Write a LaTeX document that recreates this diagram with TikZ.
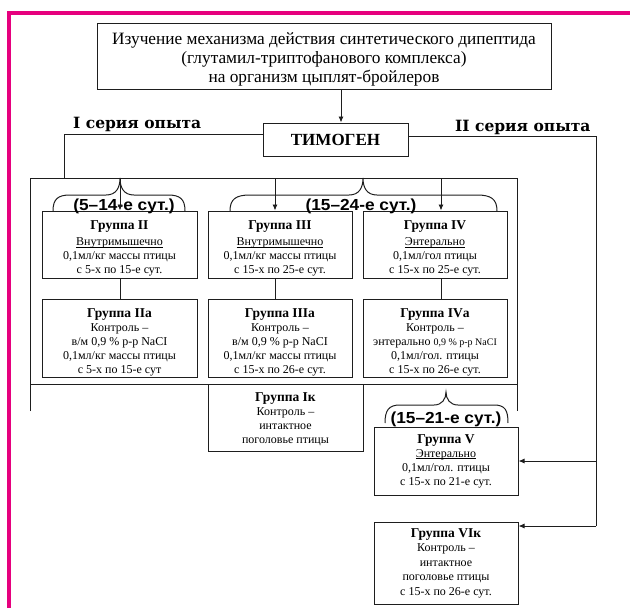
\documentclass[tikz,border=0pt]{standalone}
\usepackage{fontspec}
\usepackage{graphicx}
\setmainfont{Liberation Serif}
\newfontfamily\bracefont{Liberation Sans}
\newfontfamily\seriesfont{DejaVu Serif}
\usetikzlibrary{arrows.meta}
\definecolor{mag}{RGB}{230,0,126}
\definecolor{ink}{RGB}{30,30,30}
\newcommand\grtitle[1]{{\fontsize{13.5}{14}\selectfont\bfseries #1}}
\newcommand\upstrut[1]{\rule{0pt}{#1}}
\newcommand\ulin[1]{\setbox0=\hbox{#1}\rlap{\rule[-2pt]{\wd0}{0.7pt}}\box0}
\newcommand\bracetxt[1]{\scalebox{1.08}[1]{#1}}
\begin{document}
\begin{tikzpicture}[x=1pt,y=-1pt,
  box/.style={draw=ink, line width=1pt, inner sep=0pt, align=center, font=\fontsize{12}{14}\selectfont},
  ln/.style={draw=ink, line width=0.9pt},
  arr/.style={draw=ink, line width=0.9pt, -{Latex[length=6pt,width=5pt]}},
  brace/.style={draw=ink, line width=1pt},
  btext/.style={font=\bracefont\bfseries\fontsize{16}{16}\selectfont, inner sep=0pt, anchor=base},
  sertext/.style={font=\seriesfont\bfseries\fontsize{15.5}{16}\selectfont, inner sep=0pt, anchor=base west},
]
\useasboundingbox (0,0) rectangle (630,608);
% magenta frame
\draw[mag, line width=3.5pt] (9,700) -- (9,13) -- (700,13);

% top box
\node[box, minimum width=454pt, minimum height=66pt, font=\fontsize{17.3}{19}\selectfont] (top) at (324,56)
  {\upstrut{19pt}Изучение механизма действия синтетического дипептида\\(глутамил-триптофанового комплекса)\\на организм цыплят-бройлеров};

% TIMOGEN
\node[box, minimum width=145pt, minimum height=33pt, font=\fontsize{17}{18}\selectfont\bfseries] (tim) at (335.5,139.5) {ТИМОГЕН};
\coordinate (arrx) at (341,0);
\draw[arr] (top.south -| arrx) -- (tim.north -| arrx);

% series labels
\node[sertext] (s1) at (73,128.5) {I серия опыта};
\node[sertext] (s2) at (455,131.5) {II серия опыта};

% big frame
\coordinate (fl) at (30,411);
\coordinate (ftl) at (30,178);
\coordinate (ftr) at (517,178);
\coordinate (fr) at (517,411);
\coordinate (hl) at (30,384);
\coordinate (hr) at (517,384);
\draw[ln] (fl) -- (ftl) -- (ftr) -- (fr);
\draw[ln] (hl) -- (hr);

% left branch
\coordinate (lc) at (64,178);
\draw[ln] ([yshift=5.5pt]tim.west) -| (lc);

% groups row 1
\node[box, minimum width=155pt, minimum height=67pt] (g2) at (119.5,244.5)
  {\upstrut{16pt}\grtitle{Группа II}\\[2pt]\ulin{Внутримышечно}\\0,1мл/кг массы птицы\\с 5-х по 15-е сут.};
\node[box, minimum width=144pt, minimum height=67pt] (g3) at (280,244.5)
  {\upstrut{16pt}\grtitle{Группа III}\\[2pt]\ulin{Внутримышечно}\\0,1мл/кг массы птицы\\с 15-х по 25-е сут.};
\node[box, minimum width=144pt, minimum height=67pt] (g4) at (435,244.5)
  {\upstrut{16pt}\grtitle{Группа IV}\\[2pt]\ulin{Энтерально}\\0,1мл/гол птицы\\с 15-х по 25-е сут.};

% groups row 2
\node[box, minimum width=155pt, minimum height=78pt] (g2a) at (119.5,338)
  {\upstrut{17pt}\grtitle{Группа IIа}\\Контроль –\\в/м 0,9 \% р-р NaCI\\0,1мл/кг массы птицы\\с 5-х по 15-е сут};
\node[box, minimum width=144pt, minimum height=78pt] (g3a) at (280,338)
  {\upstrut{17pt}\grtitle{Группа IIIа}\\Контроль –\\в/м 0,9 \% р-р NaCI\\0,1мл/кг массы птицы\\с 15-х по 26-е сут.};
\node[box, minimum width=144pt, minimum height=78pt] (g4a) at (435,338)
  {\upstrut{17pt}\grtitle{Группа IVа}\\Контроль –\\энтерально {\fontsize{10}{14}\selectfont 0,9 \% р-р NaCI}\\0,1мл/гол. птицы\\с 15-х по 26-е сут.};

% group Ik
\node[box, minimum width=155pt, minimum height=67pt] (g1k) at (285.5,417.5)
  {\upstrut{13pt}\grtitle{Группа Iк}\\Контроль –\\интактное\\поголовье птицы};

% group V and VIk
\node[box, minimum width=144pt, minimum height=68pt] (g5) at (446,461)
  {\grtitle{Группа V}\\\ulin{Энтерально}\\0,1мл/гол. птицы\\с 15-х по 21-е сут.};
\node[box, minimum width=144pt, minimum height=82pt, font=\fontsize{12}{14.5}\selectfont] (g6k) at (446,563)
  {\grtitle{Группа VIк}\\Контроль –\\интактное\\поголовье птицы\\с 15-х по 26-е сут.};

% right branch
\coordinate (rv) at (596,461);
\coordinate (rvi) at (596,526);
\draw[ln] ([yshift=3.5pt]tim.east) -| (rvi);
\draw[arr] (rv) -- (g5.east |- rv);
\draw[arr] (rvi) -- (g6k.east |- rvi);

% brace texts
\node[btext] (b1) at (124,210) {\bracetxt{(5–14-е сут.)}};
\node[btext] (b2) at (361,210) {\bracetxt{(15–24-е сут.)}};
\node[btext] (b3) at (446,423) {\bracetxt{(15–21-е сут.)}};

% braces
\draw[brace] (53,211) .. controls (53,199) and (58,195) .. (70,195) -- (106,195)
  .. controls (116,195) and (120,188) .. (120,178)
  .. controls (120,188) and (124,195) .. (134,195) -- (168,195)
  .. controls (180,195) and (185,199) .. (185,211);
\draw[brace] (230,211) .. controls (230,199) and (236,195) .. (250,195) -- (349,195)
  .. controls (359,195) and (363,188) .. (363,178)
  .. controls (363,188) and (367,195) .. (377,195) -- (477,195)
  .. controls (491,195) and (497,199) .. (497,211);
\draw[brace] (385,423) .. controls (385,410) and (389,405) .. (400,405) -- (434,405)
  .. controls (442,405) and (446,399) .. (446,392)
  .. controls (446,399) and (450,405) .. (458,405) -- (494,405)
  .. controls (505,405) and (508,410) .. (508,423);

% vertical arrows from frame
\coordinate (a2) at (120,178);
\coordinate (a3) at (275,178);
\coordinate (a4) at (441,178);
\draw[arr] (a2) -- (a2 |- g2.north);
\draw[arr] (a3) -- (a3 |- g3.north);
\draw[arr] (a4) -- (a4 |- g4.north);
\draw[ln] (a2 |- g2.south) -- (a2 |- g2a.north);
\draw[ln] (a3 |- g3.south) -- (a3 |- g3a.north);
\draw[ln] (a4 |- g4.south) -- (a4 |- g4a.north);
\end{tikzpicture}
\end{document}
